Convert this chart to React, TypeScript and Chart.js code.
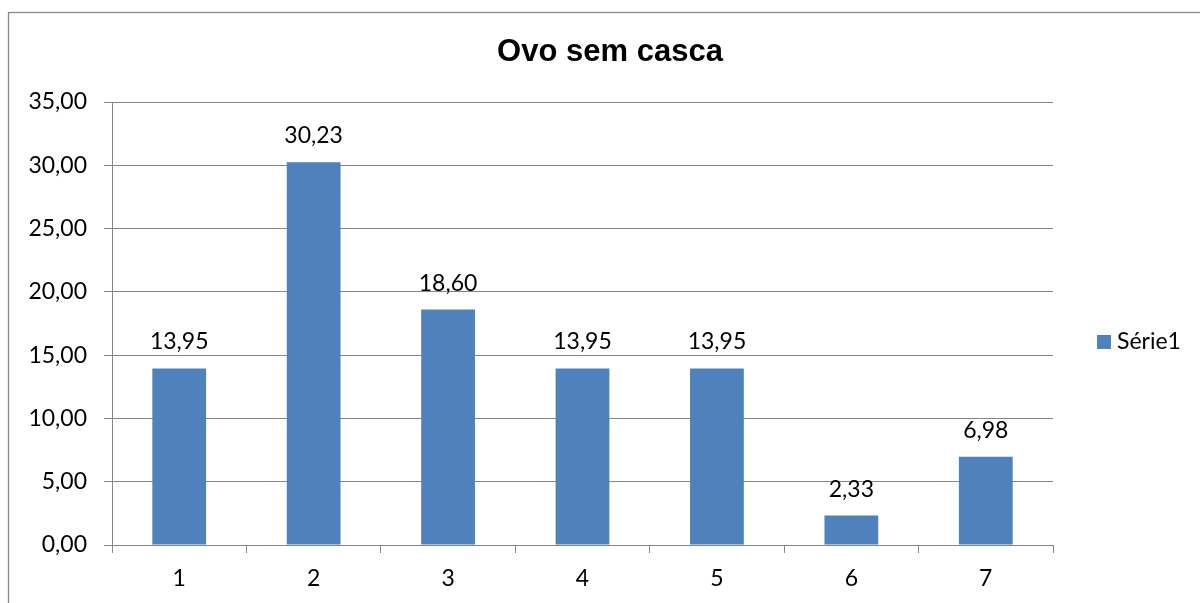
import React, { useEffect, useRef } from "react";
import { Chart, registerables } from "chart.js";

Chart.register(...registerables);

const titleText = "Ovo sem casca";
const categories = ["1", "2", "3", "4", "5", "6", "7"];
const seriesLabel = "Série1";
const seriesValues = [13.95, 30.23, 18.6, 13.95, 13.95, 2.33, 6.98];
const yTickMin = 0;
const yTickMax = 35;
const yTickStep = 5;

const BAR_COLOR = "#4F81BD";
const GRID_COLOR = "#868686";
const LABEL_FONT = "Lato";

const fmt = (v: number) => v.toFixed(2).replace(".", ",");

const decorPlugin = {
  id: "decor",
  beforeDraw(chart: any) {
    const ctx = chart.ctx;
    ctx.save();
    ctx.fillStyle = "#ffffff";
    ctx.fillRect(0, 0, chart.width, chart.height);
    ctx.strokeStyle = "#8a8a8a";
    ctx.lineWidth = 1.3;
    ctx.strokeRect(8.5, 12.5, 1400, 900);
    ctx.restore();
  },
  afterDatasetsDraw(chart: any) {
    const ctx = chart.ctx;
    const ds = chart.data.datasets[0];
    const meta = chart.getDatasetMeta(0);
    ctx.save();
    // data labels
    ctx.font = `23px ${LABEL_FONT}`;
    ctx.fillStyle = "#000000";
    ctx.textAlign = "center";
    ctx.textBaseline = "alphabetic";
    meta.data.forEach((bar: any, i: number) => {
      ctx.fillText(fmt(ds.data[i] as number), bar.x, bar.y - 19);
    });
    // title
    ctx.font = "bold 31px 'Liberation Sans'";
    ctx.textAlign = "center";
    ctx.fillText(chart.options.plugins.decorTitle, 610, 61);
    // legend
    ctx.fillStyle = ds.backgroundColor;
    ctx.fillRect(1097, 335, 14, 14);
    ctx.fillStyle = "#000000";
    ctx.font = `23px ${LABEL_FONT}`;
    ctx.textAlign = "left";
    ctx.fillText(ds.label, 1117, 349);
    ctx.restore();
  },
};

export default function App() {
  const ref = useRef<HTMLCanvasElement | null>(null);

  useEffect(() => {
    if (!ref.current) return;
    const chart = new Chart(ref.current, {
      type: "bar",
      data: {
        labels: categories,
        datasets: [
          {
            label: seriesLabel,
            data: seriesValues,
            backgroundColor: BAR_COLOR,
            borderWidth: 0,
            categoryPercentage: 1,
            barPercentage: 0.4,
          },
        ],
      },
      options: {
        animation: false,
        responsive: false,
        devicePixelRatio: 1,
        layout: { padding: { top: 102, right: 147, bottom: 0, left: 0 } },
        plugins: {
          legend: { display: false },
          title: { display: false },
          tooltip: { enabled: false },
          decorTitle: titleText,
        } as any,
        scales: {
          x: {
            type: "category",
            afterFit: (s: any) => {
              s.height = 58;
            },
            grid: {
              offset: true,
              drawOnChartArea: false,
              drawTicks: true,
              tickLength: 8,
              color: GRID_COLOR,
              tickColor: GRID_COLOR,
            },
            border: { display: true, color: GRID_COLOR, width: 1 },
            ticks: {
              color: "#000000",
              font: { family: LABEL_FONT, size: 23 },
              padding: 12,
              maxRotation: 0,
            },
          },
          y: {
            min: yTickMin,
            max: yTickMax,
            afterFit: (s: any) => {
              s.width = 112;
            },
            grid: {
              drawTicks: true,
              tickLength: 8,
              color: GRID_COLOR,
              tickColor: GRID_COLOR,
            },
            border: { display: true, color: GRID_COLOR, width: 1 },
            ticks: {
              stepSize: yTickStep,
              color: "#000000",
              font: { family: LABEL_FONT, size: 23 },
              padding: 17,
              callback: (v: any) => fmt(Number(v)),
            },
          },
        },
      },
      plugins: [decorPlugin],
    });
    return () => chart.destroy();
  }, []);

  return (
    <canvas
      ref={ref}
      width={1200}
      height={603}
      style={{ position: "fixed", left: 0, top: 0, width: 1200, height: 603 }}
    />
  );
}
